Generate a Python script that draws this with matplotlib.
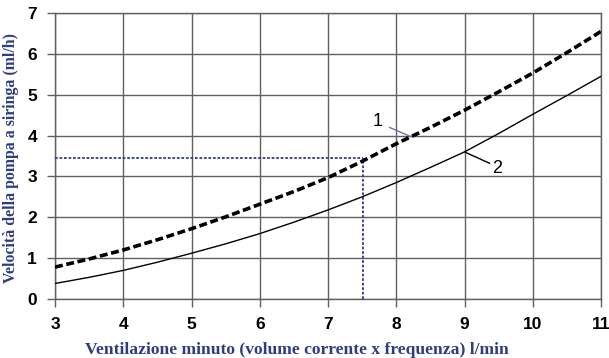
import matplotlib
matplotlib.use("Agg")
import matplotlib.pyplot as plt

x_vals = [3, 3.5, 4, 4.5, 5, 5.5, 6, 6.5, 7, 7.5, 8, 8.5, 9, 9.5, 10, 10.5, 11]
curve1 = [0.78, 0.98, 1.2, 1.45, 1.72, 2.01, 2.32, 2.63, 2.97, 3.37, 3.8, 4.2,
          4.62, 5.07, 5.53, 6.03, 6.55]
curve2 = [0.38, 0.53, 0.7, 0.9, 1.12, 1.35, 1.6, 1.88, 2.18, 2.5, 2.85, 3.22,
          3.6, 4.05, 4.52, 4.98, 5.45]
ref_x = 7.52
ref_y = 3.44
x_ticks = [3, 4, 5, 6, 7, 8, 9, 10, 11]
y_ticks = [0, 1, 2, 3, 4, 5, 6, 7]
curve_labels = ["1", "2"]

blue = "#2e3c82"
grid_c = "#606060"

fig = plt.figure(figsize=(6.09, 3.58), dpi=100)
ax = fig.add_axes([55/609, 1 - 299/358, (601-55)/609, (299-13)/358])

ax.plot(x_vals, curve1, color="black", lw=2.6, ls=(0, (2.2, 1.0)), zorder=4)
ax.plot(x_vals, curve2, color="black", lw=1.0, zorder=4)

ax.plot([3, ref_x], [ref_y, ref_y], color=blue, lw=1.3, ls=(0, (1.5, 1.0)), zorder=3)
ax.plot([ref_x, ref_x], [0, ref_y], color=blue, lw=1.3, ls=(0, (1.5, 1.0)), zorder=3)

ax.set_xlim(3, 11)
ax.set_ylim(0, 7)
ax.set_xticks(x_ticks)
ax.set_yticks(y_ticks)
ax.grid(True, color=grid_c, lw=1.0)
for s in ax.spines.values():
    s.set_color(grid_c)
    s.set_linewidth(1.0)
ax.tick_params(direction="out", length=6, width=1.0, color=grid_c, pad=7)
for lab in ax.get_xticklabels() + ax.get_yticklabels():
    lab.set_fontfamily("Liberation Sans")
    lab.set_fontweight("bold")
    lab.set_fontsize(12.5)

# curve labels with leader lines
ax.text(7.73, 4.34, curve_labels[0], fontsize=13, fontfamily="Liberation Sans",
        ha="center", va="center", zorder=5)
ax.annotate("", xy=(8.22, 3.97), xytext=(7.9, 4.2),
            arrowprops=dict(arrowstyle="-", color="#6a78a8", lw=1.0, shrinkA=0, shrinkB=0))
ax.text(9.48, 3.2, curve_labels[1], fontsize=13, fontfamily="Liberation Sans",
        ha="center", va="center", zorder=5)
ax.annotate("", xy=(9.0, 3.6), xytext=(9.37, 3.32),
            arrowprops=dict(arrowstyle="-", color="black", lw=1.0, shrinkA=0, shrinkB=0))

fig.text(297/609, 1 - 350/358,
         "Ventilazione minuto (volume corrente x frequenza) l/min",
         fontfamily="Liberation Serif", fontweight="bold", fontsize=12.6,
         color=blue, ha="center", va="center")
fig.text(11/609, 1 - 158/358, "Velocità della pompa a siringa (ml/h)",
         fontfamily="Liberation Serif", fontweight="bold", fontsize=11.4,
         color=blue, ha="center", va="center", rotation=90)

fig.savefig("out.png", dpi=100)
